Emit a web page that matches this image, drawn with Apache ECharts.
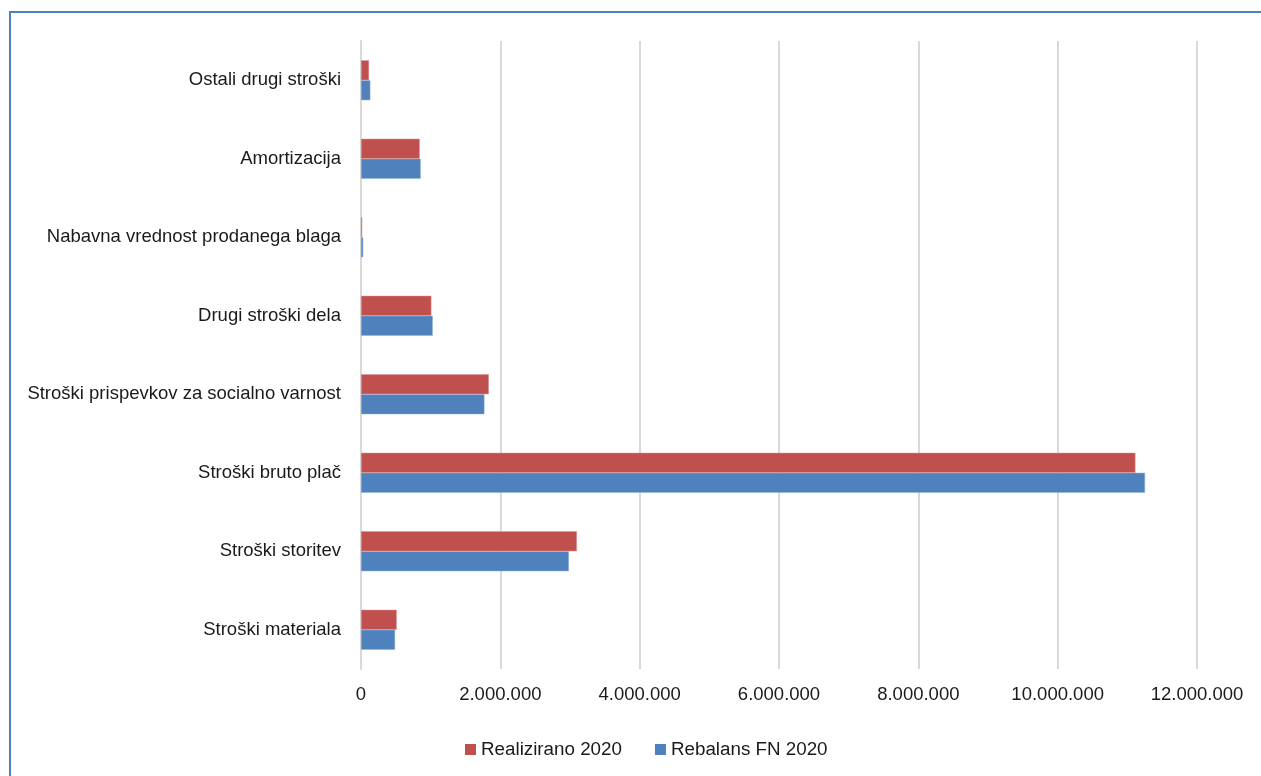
<!DOCTYPE html>
<html>
<head>
<meta charset="utf-8">
<script src="https://cdn.jsdelivr.net/npm/echarts@6/dist/echarts.min.js"></script>
<style>
html,body{margin:0;padding:0;background:#fff;}
#frame{position:absolute;left:9px;top:11px;width:1300px;height:800px;border-left:2px solid #4f81bd;border-top:2px solid #4f81bd;}
#chart{position:absolute;left:0;top:0;width:1261px;height:776px;}
</style>
</head>
<body>
<div id="frame"></div>
<div id="chart"></div>
<script>
const categories = [
  "Stroški materiala",
  "Stroški storitev",
  "Stroški bruto plač",
  "Stroški prispevkov za socialno varnost",
  "Drugi stroški dela",
  "Nabavna vrednost prodanega blaga",
  "Amortizacija",
  "Ostali drugi stroški"
];
const realizirano2020 = [513000, 3099000, 11116000, 1835000, 1010000, 18000, 843000, 115000];
const rebalansFN2020 = [489000, 2984000, 11254000, 1772000, 1030000, 32000, 857000, 134000];
const seriesNames = ["Realizirano 2020", "Rebalans FN 2020"];

function fmt(v){
  return String(v).replace(/\B(?=(\d{3})+(?!\d))/g, ".");
}

const chart = echarts.init(document.getElementById('chart'));
const font = "'Liberation Sans', Arial, sans-serif";
chart.setOption({
  animation: false,
  textStyle: {fontFamily: font},
  grid: {left: 361, right: 64, top: 41, bottom: 107, containLabel: false},
  legend: {
    data: seriesNames,
    top: 735,
    left: 460,
    itemWidth: 11,
    itemHeight: 11,
    itemGap: 33,
    icon: 'rect',
    itemStyle: {borderWidth: 0},
    textStyle: {fontSize: 18.8, color: '#1a1a1a', fontFamily: font}
  },
  xAxis: {
    type: 'value',
    min: 0,
    max: 12000000,
    interval: 2000000,
    axisLine: {show: false},
    axisTick: {show: false},
    splitLine: {lineStyle: {color: '#d9d9d9', width: 2}},
    axisLabel: {formatter: fmt, fontSize: 18.5, color: '#1a1a1a', margin: 16, fontFamily: font}
  },
  yAxis: {
    type: 'category',
    data: categories,
    axisLine: {lineStyle: {color: '#d9d9d9', width: 2}},
    axisTick: {show: false},
    axisLabel: {fontSize: 18.5, color: '#1a1a1a', margin: 20, fontFamily: font}
  },
  series: [
    {
      name: seriesNames[0],
      type: 'bar',
      data: realizirano2020,
      barWidth: 20,
      barGap: '0%',
      itemStyle: {color: '#c0504d', borderColor: '#d99694', borderWidth: 0.5},
      z: 3
    },
    {
      name: seriesNames[1],
      type: 'bar',
      data: rebalansFN2020,
      barWidth: 20,
      barGap: '0%',
      itemStyle: {color: '#4f81bd', borderColor: '#95b3d7', borderWidth: 0.5},
      z: 2
    }
  ]
});
</script>
</body>
</html>
